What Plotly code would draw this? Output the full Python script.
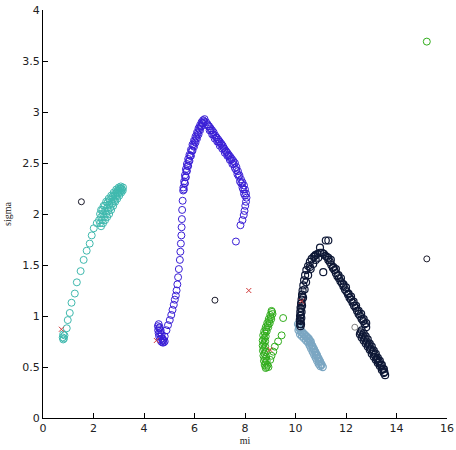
import plotly.graph_objects as go

# ---- data ----
cyan_x = [0.78, 0.80, 0.83, 0.85, 0.80, 0.94, 0.98, 1.06, 1.13, 1.26, 1.34, 1.49, 1.61, 1.73, 1.85, 1.93, 2.01, 2.13,
          2.30, 2.38, 2.46, 2.54, 2.62, 2.70, 2.78, 2.86, 2.94, 3.02, 3.10, 3.16,
          2.22, 2.30, 2.38, 2.46, 2.54, 2.62, 2.70, 2.78, 2.86, 2.94, 3.02, 3.10, 3.17,
          2.30, 2.40, 2.50, 2.60, 2.70, 2.80, 2.90, 3.00, 3.08,
          2.26, 2.34, 2.42, 2.50, 2.58, 2.66, 2.74, 2.82, 2.90, 2.98, 3.06, 3.13,
          2.26, 2.35, 2.45, 2.55, 2.65, 2.75, 2.85, 2.95, 3.05]
cyan_y = [0.79, 0.77, 0.78, 0.81, 0.82, 0.88, 0.96, 1.03, 1.13, 1.22, 1.33, 1.44, 1.55, 1.64, 1.71, 1.79, 1.86, 1.91,
          1.88, 1.91, 1.94, 1.97, 2.00, 2.04, 2.08, 2.12, 2.15, 2.18, 2.21, 2.23,
          1.94, 1.97, 2.00, 2.03, 2.06, 2.09, 2.12, 2.15, 2.18, 2.21, 2.23, 2.25, 2.26,
          2.04, 2.08, 2.12, 2.15, 2.18, 2.21, 2.24, 2.26, 2.27,
          1.91, 1.94, 1.97, 2.00, 2.03, 2.06, 2.10, 2.13, 2.17, 2.20, 2.22, 2.24,
          2.00, 2.04, 2.08, 2.11, 2.14, 2.17, 2.20, 2.23, 2.25]

blue_x = [4.55, 4.56, 4.58, 4.60, 4.64, 4.68, 4.73, 4.78, 4.82, 4.60, 4.64, 4.68, 4.72, 4.76, 4.58, 4.62, 4.66, 4.70,
          4.76, 4.82, 4.89, 4.95, 5.02, 5.08, 5.13, 5.18, 5.22, 5.26, 5.29, 5.32, 5.35, 5.38, 5.42, 5.44,
          5.46, 5.48, 5.49, 5.50, 5.51, 5.53, 5.55,
          5.56, 5.59, 5.62, 5.66, 5.70, 5.75, 5.80, 5.86, 5.92, 5.98, 6.04, 6.10, 6.16, 6.22, 6.28, 6.34, 6.40,
          5.62, 5.66, 5.70, 5.75, 5.80, 5.86, 5.92, 5.98, 6.04, 6.10, 6.16, 6.22, 6.28, 6.34, 6.40,
          5.58, 5.61, 5.64, 5.68, 5.72, 5.77, 5.83, 5.89, 5.95, 6.01, 6.07, 6.13, 6.19, 6.25, 6.31, 6.37,
          6.46, 6.52, 6.58, 6.64, 6.70, 6.76, 6.82, 6.88, 6.94, 7.00, 7.06, 7.12, 7.18, 7.24, 7.30, 7.36,
          7.42, 7.48, 7.54, 7.60, 7.66, 7.72, 7.78, 7.84, 7.90, 7.96, 8.00, 8.04, 8.06, 8.04, 8.01, 7.98,
          7.95, 7.90, 7.82, 7.64,
          6.60, 6.70, 6.80, 6.90, 7.00, 7.10, 7.20, 7.30, 7.40, 7.50, 7.60, 7.70, 7.80, 7.90, 7.96,
          6.55, 6.65, 6.75, 6.85, 6.95, 7.05, 7.15, 7.25, 7.35, 7.45, 7.55, 7.65, 7.75, 7.85, 7.93, 8.00]
blue_y = [0.90, 0.86, 0.83, 0.80, 0.77, 0.75, 0.74, 0.74, 0.75, 0.88, 0.84, 0.80, 0.78, 0.77, 0.92, 0.89, 0.86, 0.82,
          0.76, 0.80, 0.86, 0.91, 0.96, 1.01, 1.06, 1.11, 1.16, 1.20, 1.25, 1.31, 1.38, 1.46, 1.55, 1.63,
          1.71, 1.79, 1.87, 1.95, 2.04, 2.13, 2.23,
          2.26, 2.32, 2.38, 2.44, 2.49, 2.54, 2.58, 2.63, 2.68, 2.72, 2.76, 2.80, 2.84, 2.87, 2.90, 2.92, 2.93,
          2.30, 2.36, 2.42, 2.47, 2.52, 2.57, 2.62, 2.66, 2.70, 2.74, 2.78, 2.82, 2.86, 2.89, 2.90,
          2.24, 2.30, 2.36, 2.42, 2.47, 2.52, 2.57, 2.62, 2.67, 2.71, 2.75, 2.79, 2.83, 2.86, 2.89, 2.91,
          2.90, 2.88, 2.86, 2.84, 2.82, 2.80, 2.77, 2.75, 2.73, 2.71, 2.69, 2.67, 2.64, 2.62, 2.60, 2.58,
          2.56, 2.54, 2.52, 2.50, 2.46, 2.42, 2.38, 2.34, 2.31, 2.28, 2.24, 2.20, 2.16, 2.12, 2.08, 2.03,
          1.99, 1.94, 1.89, 1.73,
          2.82, 2.78, 2.74, 2.71, 2.67, 2.64, 2.60, 2.57, 2.53, 2.49, 2.45, 2.39, 2.32, 2.26, 2.20,
          2.86, 2.82, 2.78, 2.75, 2.71, 2.68, 2.65, 2.61, 2.57, 2.53, 2.49, 2.43, 2.37, 2.30, 2.24, 2.18]

green_x = [9.05, 9.00, 8.94, 8.88, 8.82, 8.76, 8.72, 8.70, 8.70, 8.71, 8.73, 8.75, 8.78, 8.82,
           9.09, 9.04, 8.98, 8.92, 8.86, 8.82, 8.80, 8.80, 8.82, 8.84, 8.86, 8.89, 8.93,
           9.07, 9.02, 8.96, 8.90, 8.84, 8.79, 8.76, 8.75, 8.75, 8.77, 8.79, 8.81, 8.85,
           9.51, 9.45, 9.31, 9.18, 9.12, 9.05, 9.00, 15.20]
green_y = [1.05, 1.01, 0.97, 0.93, 0.89, 0.85, 0.81, 0.76, 0.71, 0.66, 0.61, 0.56, 0.52, 0.49,
           1.02, 0.97, 0.93, 0.89, 0.85, 0.80, 0.75, 0.70, 0.65, 0.60, 0.56, 0.52, 0.50,
           1.04, 0.99, 0.95, 0.91, 0.87, 0.83, 0.78, 0.73, 0.68, 0.63, 0.58, 0.54, 0.50,
           0.98, 0.81, 0.75, 0.70, 0.65, 0.61, 0.57, 3.69]

navy_x = [10.17, 10.17, 10.18, 10.19, 10.20, 10.22, 10.24, 10.26, 10.28, 10.31, 10.34, 10.38, 10.43, 10.50,
          10.57, 10.64, 10.72, 10.80, 10.88, 10.97, 11.05, 11.12,
          10.22, 10.23, 10.24, 10.26, 10.30, 10.36, 10.42, 10.50, 10.60, 10.70, 10.80, 10.90,
          10.20, 10.20, 10.21, 10.22, 10.24, 10.26,
          11.18, 11.24, 11.30, 11.36, 11.42, 11.48, 11.54, 11.60, 11.66, 11.72, 11.78, 11.84, 11.90, 11.96,
          12.02, 12.08, 12.14, 12.20, 12.26, 12.32, 12.38, 12.44, 12.50, 12.56, 12.62, 12.68, 12.74, 12.80,
          11.40, 11.60, 11.80, 12.00, 12.20, 12.40, 12.60, 12.80,
          11.30, 11.50, 11.70, 11.90, 12.10, 12.30, 12.50, 12.70,
          12.55, 12.62, 12.70, 12.78, 12.86, 12.94, 13.02, 13.10, 13.18, 13.26, 13.34, 13.42, 13.50, 13.55,
          12.62, 12.70, 12.78, 12.86, 12.94, 13.02, 13.10, 13.18, 13.26, 13.34, 13.42, 13.50,
          12.58, 12.66, 12.74, 12.82, 12.90, 12.98, 13.06, 13.14, 13.22, 13.30, 13.38, 13.46, 13.52,
          11.30, 11.20, 10.97, 10.77, 11.10, 10.57]
navy_y = [0.92, 0.96, 1.00, 1.04, 1.08, 1.12, 1.16, 1.21, 1.25, 1.30, 1.35, 1.40, 1.45, 1.49,
          1.53, 1.56, 1.58, 1.60, 1.61, 1.62, 1.62, 1.61,
          0.92, 0.98, 1.04, 1.10, 1.18, 1.26, 1.33, 1.40, 1.46, 1.51, 1.55, 1.57,
          0.90, 0.95, 1.01, 1.07, 1.13, 1.19,
          1.59, 1.58, 1.55, 1.53, 1.50, 1.47, 1.45, 1.42, 1.39, 1.37, 1.34, 1.32, 1.29, 1.26,
          1.24, 1.21, 1.18, 1.16, 1.13, 1.10, 1.08, 1.05, 1.02, 1.00, 0.97, 0.95, 0.92, 0.89,
          1.55, 1.46, 1.37, 1.28, 1.19, 1.10, 1.02, 0.93,
          1.57, 1.48, 1.40, 1.31, 1.22, 1.14, 1.05, 0.97,
          0.82, 0.79, 0.76, 0.73, 0.70, 0.67, 0.63, 0.60, 0.57, 0.54, 0.51, 0.47, 0.44, 0.42,
          0.86, 0.83, 0.80, 0.77, 0.73, 0.70, 0.66, 0.63, 0.59, 0.56, 0.52, 0.48,
          0.84, 0.81, 0.78, 0.75, 0.72, 0.68, 0.65, 0.62, 0.58, 0.55, 0.52, 0.48, 0.45,
          1.74, 1.74, 1.67, 1.59, 1.43, 1.48]

steel_x = [10.10, 10.14, 10.20, 10.28, 10.36, 10.44, 10.52, 10.60, 10.66, 10.72, 10.78, 10.84, 10.90, 10.96,
           11.02, 11.08,
           10.12, 10.18, 10.26, 10.34, 10.42, 10.50, 10.56, 10.62, 10.68, 10.74, 10.80, 10.86, 10.92, 10.98,
           10.16, 10.24, 10.32, 10.40, 10.48, 10.55, 10.61, 10.67, 10.73, 10.79, 10.85, 10.91, 10.97, 11.03]
steel_y = [0.92, 0.89, 0.86, 0.84, 0.82, 0.80, 0.78, 0.75, 0.71, 0.68, 0.65, 0.62, 0.59, 0.56,
           0.53, 0.50,
           0.86, 0.82, 0.80, 0.78, 0.76, 0.74, 0.71, 0.68, 0.65, 0.62, 0.59, 0.56, 0.53, 0.51,
           0.88, 0.84, 0.82, 0.80, 0.78, 0.76, 0.73, 0.70, 0.67, 0.64, 0.61, 0.58, 0.55, 0.52]

dark_x = [1.52, 6.81, 15.20]
dark_y = [2.12, 1.155, 1.56]
gray_x = [12.35]
gray_y = [0.89]

cross_x = [0.73, 4.49, 8.15, 10.24, 8.99]
cross_y = [0.87, 0.76, 1.25, 1.145, 0.67]

x_ticks = [0, 2, 4, 6, 8, 10, 12, 14, 16]
y_ticks = [0, 0.5, 1, 1.5, 2, 2.5, 3, 3.5, 4]

fig = go.Figure()


def circles(x, y, color, size=7, width=1):
    fig.add_trace(go.Scatter(
        x=x, y=y, mode="markers", cliponaxis=False,
        marker=dict(symbol="circle-open", size=size, color=color, line=dict(width=width, color=color)),
        showlegend=False, hoverinfo="skip"))


circles(cyan_x, cyan_y, "#3fb9ae")
circles(blue_x, blue_y, "#3a1fd6")
circles(green_x, green_y, "#31ad1c")
circles(steel_x, steel_y, "#7ba6c2", 7, 1.3)
circles(navy_x, navy_y, "#0e1836", 7, 1.2)
circles(dark_x, dark_y, "#1a1a2a", 6)
circles(gray_x, gray_y, "#808080", 6)

fig.add_trace(go.Scatter(
    x=cross_x, y=cross_y, mode="markers",
    marker=dict(symbol="x-thin-open", size=5, color="#d03a3a", line=dict(width=1, color="#d03a3a")),
    showlegend=False, hoverinfo="skip"))

axis_common = dict(
    showgrid=False, zeroline=False, showline=True, linecolor="black", linewidth=1,
    ticks="inside", ticklen=5, tickcolor="black", mirror=False, automargin=False,
    tickfont=dict(family="DejaVu Sans", size=11, color="#222222"),
)

fig.update_layout(
    width=456, height=450,
    margin=dict(l=43, r=9, t=10, b=32),
    paper_bgcolor="white", plot_bgcolor="white",
    xaxis=dict(range=[0, 16], tickvals=x_ticks, **axis_common,
               title=dict(text="mi", font=dict(family="Liberation Serif", size=10, color="#222222"), standoff=2)),
    yaxis=dict(range=[0, 4], tickvals=y_ticks, **axis_common,
               title=dict(text="sigma", font=dict(family="Liberation Serif", size=10, color="#222222"), standoff=8)),
)

fig.write_html("out.html", config={"displayModeBar": False},
               post_script="document.body.style.margin='0';document.body.style.overflow='hidden';")
